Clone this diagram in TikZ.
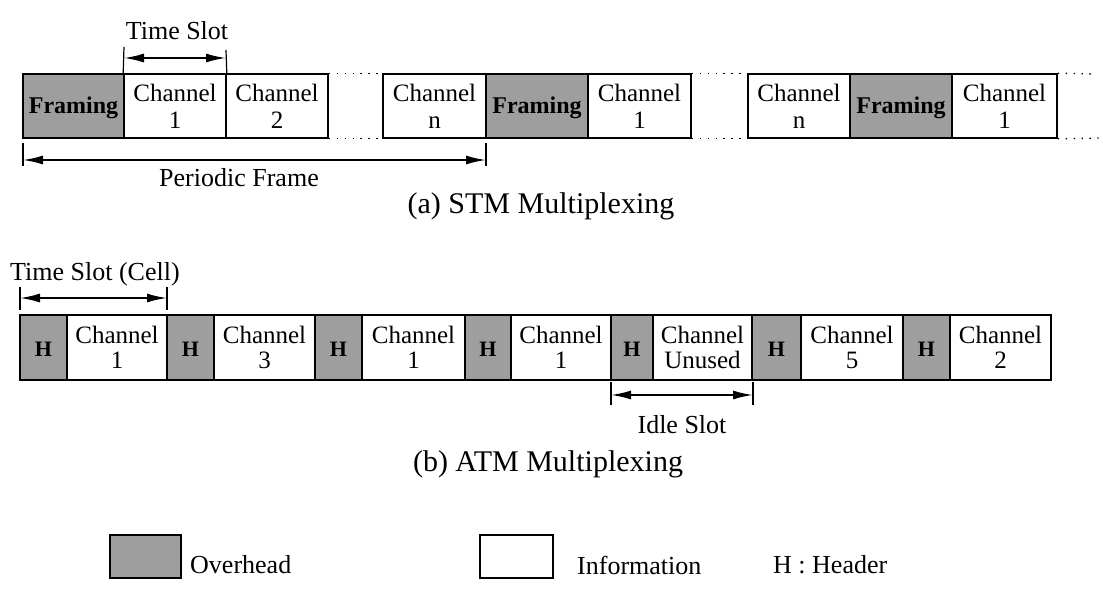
\documentclass[tikz,border=0pt]{standalone}
\usepackage{fontspec}
\setmainfont{Liberation Serif}
\usetikzlibrary{arrows.meta}
\tikzset{
  cellbox/.style={draw=black, line width=1.6pt, inner sep=0pt, minimum height=64pt, align=center,
     font=\fontsize{25}{25}\selectfont},
  infobox/.style={cellbox, fill=white},
  ovhbox/.style={cellbox, fill=black!38},
  framtext/.style={font=\fontsize{24}{24}\selectfont\bfseries, text=black},
  htext/.style={font=\fontsize{22}{22}\selectfont\bfseries, text=black},
  dotline/.style={line width=1.3pt, dash pattern=on 1.4pt off 6.5pt},
  tick/.style={line width=1.2pt},
  dimarrow/.style={line width=1.8pt, {Latex[length=20pt,width=9pt]}-{Latex[length=20pt,width=9pt]}},
  lbl/.style={font=\fontsize{26}{26}\selectfont, inner sep=0pt},
  captext/.style={font=\fontsize{30}{30}\selectfont, inner sep=0pt},
}
\begin{document}
\begin{tikzpicture}[x=1pt,y=-1pt]
\useasboundingbox (0,0) rectangle (1103,592);

% ---------- STM row ----------
\node[ovhbox, minimum width=101pt] (f1) at (73.5,106) {};
\node[framtext] (f1t) at (73.5,108) {Framing};
\node[infobox, minimum width=102pt] (s1) at (175,106) {Channel\\[2pt]1};
\node[infobox, minimum width=102pt] (s2) at (277,106) {Channel\\[2pt]2};
\node[infobox, minimum width=103pt] (sn) at (434.5,106) {Channel\\[2pt]n};
\node[ovhbox, minimum width=102pt] (f2) at (537,106) {};
\node[framtext] (f2t) at (537,108) {Framing};
\node[infobox, minimum width=103pt] (s1b) at (639.5,106) {Channel\\[2pt]1};
\node[infobox, minimum width=102pt] (snb) at (799,106) {Channel\\[2pt]n};
\node[ovhbox, minimum width=102pt] (f3) at (901,106) {};
\node[framtext] (f3t) at (901,108) {Framing};
\node[infobox, minimum width=105pt] (s1c) at (1004.5,106) {Channel\\[2pt]1};

\draw[dotline] (s2.north east) -- (sn.north west);
\draw[dotline] (s2.south east) -- (sn.south west);
\draw[dotline] (s1b.north east) -- (snb.north west);
\draw[dotline] (s1b.south east) -- (snb.south west);
\coordinate (endtop) at (1095,74);
\coordinate (endbot) at (1103,138);
\draw[dotline] (s1c.north east) -- (endtop);
\draw[dotline] (s1c.south east) -- (endbot);

% Time Slot
\coordinate (tsl) at (124,47);
\coordinate (tsr) at (226,50);
\coordinate (tsal) at (124,58);
\coordinate (tsar) at (226,58);
\draw[tick] (s1.north west) -- (tsl);
\draw[tick] (s1.north east) -- (tsr);
\draw[dimarrow] (tsal) -- (tsar);
\node[lbl] (tslbl) at (177,31) {Time Slot};

% Periodic Frame
\coordinate (pft1) at (23,143);
\coordinate (pfb1) at (23,166);
\coordinate (pft2) at (486,143);
\coordinate (pfb2) at (486,166);
\coordinate (pfal) at (23,160);
\coordinate (pfar) at (486,160);
\draw[tick] (pft1) -- (pfb1);
\draw[tick] (pft2) -- (pfb2);
\draw[dimarrow] (pfal) -- (pfar);
\node[lbl] (pflbl) at (239,178) {Periodic Frame};

\node[captext] (capa) at (541,206) {(a) STM Multiplexing};

% ---------- ATM row ----------
\node[ovhbox, minimum width=47pt, minimum height=65pt] (h1) at (43.5,347.5) {};
\node[htext] (h1t) at (43.5,349) {H};
\node[infobox, minimum width=100pt, minimum height=65pt] (a1) at (117,347.5) {Channel\\[0pt]1};
\node[ovhbox, minimum width=47pt, minimum height=65pt] (h2) at (190.5,347.5) {};
\node[htext] (h2t) at (190.5,349) {H};
\node[infobox, minimum width=101pt, minimum height=65pt] (a3) at (264.5,347.5) {Channel\\[0pt]3};
\node[ovhbox, minimum width=47pt, minimum height=65pt] (h3) at (338.5,347.5) {};
\node[htext] (h3t) at (338.5,349) {H};
\node[infobox, minimum width=103pt, minimum height=65pt] (a1b) at (413.5,347.5) {Channel\\[0pt]1};
\node[ovhbox, minimum width=46pt, minimum height=65pt] (h4) at (488,347.5) {};
\node[htext] (h4t) at (488,349) {H};
\node[infobox, minimum width=100pt, minimum height=65pt] (a1c) at (561,347.5) {Channel\\[0pt]1};
\node[ovhbox, minimum width=42pt, minimum height=65pt] (h5) at (632,347.5) {};
\node[htext] (h5t) at (632,349) {H};
\node[infobox, minimum width=99pt, minimum height=65pt] (au) at (702.5,347.5) {Channel\\[0pt]Unused};
\node[ovhbox, minimum width=49pt, minimum height=65pt] (h6) at (776.5,347.5) {};
\node[htext] (h6t) at (776.5,349) {H};
\node[infobox, minimum width=102pt, minimum height=65pt] (a5) at (852,347.5) {Channel\\[0pt]5};
\node[ovhbox, minimum width=47pt, minimum height=65pt] (h7) at (926.5,347.5) {};
\node[htext] (h7t) at (926.5,349) {H};
\node[infobox, minimum width=101pt, minimum height=65pt] (a2) at (1000.5,347.5) {Channel\\[0pt]2};

% Time Slot (Cell)
\coordinate (ctl1) at (20,287);
\coordinate (cbl1) at (20,310);
\coordinate (ctl2) at (167,287);
\coordinate (cbl2) at (167,310);
\coordinate (cal) at (20,298);
\coordinate (car) at (167,298);
\draw[tick] (ctl1) -- (cbl1);
\draw[tick] (ctl2) -- (cbl2);
\draw[dimarrow] (cal) -- (car);
\node[lbl, anchor=west] (cslbl) at (10,274) {Time Slot (Cell)};

% Idle Slot
\coordinate (itl) at (611,382);
\coordinate (ibl) at (611,405);
\coordinate (itr) at (753,382);
\coordinate (ibr) at (753,405);
\coordinate (ial) at (611,395);
\coordinate (iar) at (753,395);
\draw[tick] (itl) -- (ibl);
\draw[tick] (itr) -- (ibr);
\draw[dimarrow] (ial) -- (iar);
\node[lbl] (idlbl) at (682,425) {Idle Slot};

\node[captext] (capb) at (548,464) {(b) ATM Multiplexing};

% ---------- Legend ----------
\node[ovhbox, minimum width=71pt, minimum height=43pt] (lov) at (145.5,556.5) {};
\node[lbl, anchor=west] (lovt) at (190,565) {Overhead};
\node[infobox, minimum width=73pt, minimum height=43pt] (lin) at (516.5,556.5) {};
\node[lbl, anchor=west] (lint) at (577,565) {Information};
\node[lbl, anchor=west] (lht) at (773,565) {H : Header};
\end{tikzpicture}
\end{document}
